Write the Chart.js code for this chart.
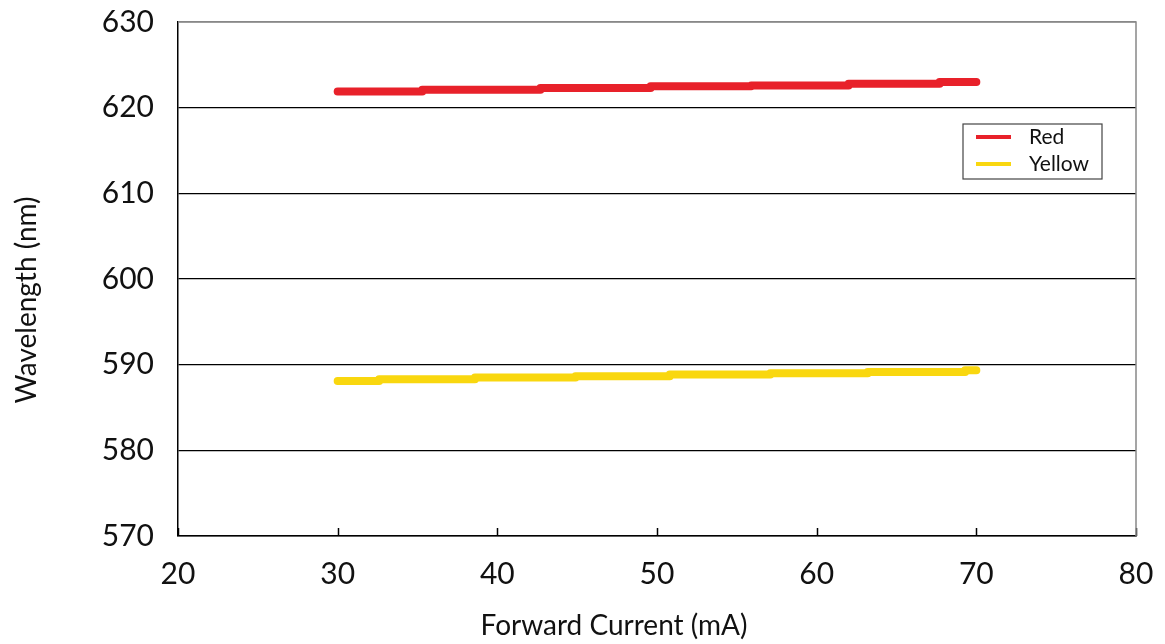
<!DOCTYPE html>
<html>
<head>
<meta charset="utf-8">
<script src="https://cdn.jsdelivr.net/npm/chart.js@4.4.1/dist/chart.umd.min.js"></script>
<style>
  html, body { margin: 0; padding: 0; background: #fff; }
  #wrap { width: 1165px; height: 644px; }
</style>
</head>
<body>
<div id="wrap"><canvas id="chart" width="1165" height="644"></canvas></div>
<script>
// dados
const xTicks = [20, 30, 40, 50, 60, 70, 80];
const yTicks = [570, 580, 590, 600, 610, 620, 630];

const redCurrent = [30, 35.3, 42.7, 49.6, 55.9, 62.0, 67.7, 70];
const redWavelength = [621.9, 622.1, 622.3, 622.5, 622.6, 622.8, 623.0, 623.0];

const yellowCurrent = [30, 32.6, 38.6, 44.9, 50.8, 57.1, 63.2, 69.3, 70];
const yellowWavelength = [588.1, 588.3, 588.5, 588.65, 588.85, 589.0, 589.15, 589.35, 589.35];

const xTitle = 'Forward Current (mA)';
const yTitle = 'Wavelength (nm)';

const FONT = 'Lato, "Open Sans", sans-serif';
const RED = '#E8212A';
const YELLOW = '#F9D70F';

function toPoints(xs, ys) {
    return xs.map((x, i) => ({ x: x, y: ys[i] }));
}

// ticks internos no eixo x, borda superior/direita cinza, títulos e legenda com moldura
const framePlugin = {
    id: 'frame',
    afterDraw(chart) {
        const ctx = chart.ctx;
        const area = chart.chartArea;
        const xs = chart.scales.x;

        ctx.save();
        ctx.strokeStyle = '#000';
        ctx.lineWidth = 1.5;
        xTicks.forEach(v => {
            const px = Math.round(xs.getPixelForValue(v)) + 0.5;
            ctx.beginPath();
            ctx.moveTo(px, area.bottom);
            ctx.lineTo(px, area.bottom - 8);
            ctx.stroke();
        });

        ctx.strokeStyle = '#888';
        ctx.lineWidth = 1.5;
        ctx.beginPath();
        ctx.moveTo(area.left, area.top);
        ctx.lineTo(area.right, area.top);
        ctx.lineTo(area.right, area.bottom);
        ctx.stroke();

        // títulos dos eixos (deslocados como no original)
        ctx.fillStyle = '#111';
        ctx.font = '28px ' + FONT;
        ctx.textAlign = 'center';
        ctx.textBaseline = 'middle';
        ctx.fillText(xTitle, 614, 626);
        ctx.save();
        ctx.translate(27, 300);
        ctx.rotate(-Math.PI / 2);
        ctx.fillText(yTitle, 0, 0);
        ctx.restore();

        // legenda
        const bx = 963, by = 124, bw = 139, bh = 55;
        ctx.fillStyle = '#fff';
        ctx.fillRect(bx, by, bw, bh);
        ctx.strokeStyle = '#444';
        ctx.lineWidth = 1.2;
        ctx.strokeRect(bx, by, bw, bh);
        ctx.font = '21px ' + FONT;
        ctx.textBaseline = 'middle';
        ctx.textAlign = 'left';
        chart.data.datasets.forEach((ds, i) => {
            const ly = by + 13 + i * 27;
            ctx.strokeStyle = ds.borderColor;
            ctx.lineWidth = 4;
            ctx.beginPath();
            ctx.moveTo(bx + 13, ly);
            ctx.lineTo(bx + 48, ly);
            ctx.stroke();
            ctx.fillStyle = '#111';
            ctx.fillText(ds.label, bx + 66, ly);
        });
        ctx.restore();
    }
};

const ctx = document.getElementById('chart').getContext('2d');
new Chart(ctx, {
    type: 'line',
    data: {
        datasets: [
            {
                label: 'Red',
                data: toPoints(redCurrent, redWavelength),
                borderColor: RED,
                borderWidth: 8,
                borderCapStyle: 'round',
                borderJoinStyle: 'round',
                stepped: 'before',
                pointRadius: 0,
                fill: false
            },
            {
                label: 'Yellow',
                data: toPoints(yellowCurrent, yellowWavelength),
                borderColor: YELLOW,
                borderWidth: 8,
                borderCapStyle: 'round',
                borderJoinStyle: 'round',
                stepped: 'before',
                pointRadius: 0,
                fill: false
            }
        ]
    },
    options: {
        responsive: false,
        animation: false,
        layout: { padding: { top: 22, right: 29, left: 0, bottom: 0 } },
        plugins: {
            legend: { display: false },
            tooltip: { enabled: false }
        },
        scales: {
            x: {
                type: 'linear',
                min: 20,
                max: 80,
                afterBuildTicks: s => { s.ticks = xTicks.map(v => ({ value: v })); },
                afterFit: s => {
                    s.height = 108;
                    s.paddingLeft = 0;
                    s.paddingRight = 0;
                },
                grid: { display: false, drawTicks: false },
                border: { display: true, color: '#000', width: 1.5 },
                ticks: { color: '#111', padding: 20, font: { family: FONT, size: 30 } },
                title: { display: false }
            },
            y: {
                type: 'linear',
                min: 570,
                max: 630,
                afterBuildTicks: s => { s.ticks = yTicks.map(v => ({ value: v })); },
                afterFit: s => {
                    s.width = 178;
                    s.paddingTop = 0;
                    s.paddingBottom = 0;
                },
                grid: {
                    drawTicks: false,
                    color: c => (c.tick && c.tick.value === 630) ? '#888' : '#000',
                    lineWidth: 1.2
                },
                border: { display: true, color: '#000', width: 1.5 },
                ticks: { color: '#111', padding: 24, font: { family: FONT, size: 30 } },
                title: { display: false }
            }
        }
    },
    plugins: [framePlugin]
});
</script>
</body>
</html>
